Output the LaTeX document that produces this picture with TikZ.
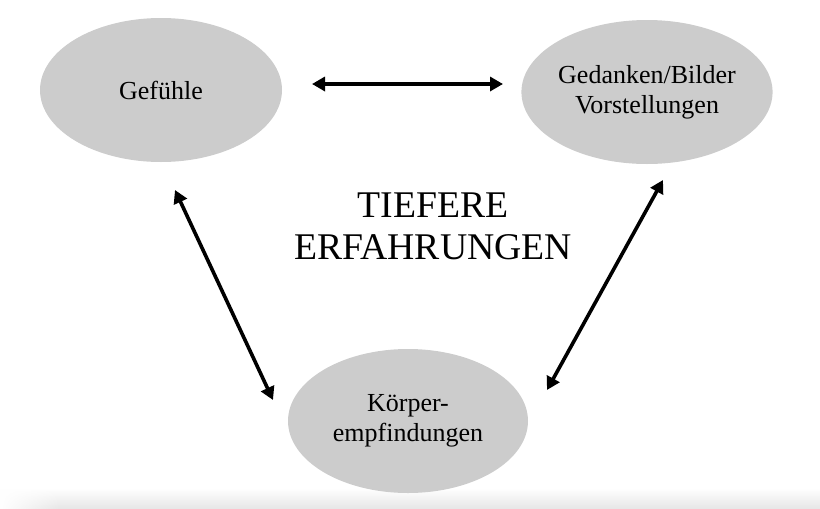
\documentclass[tikz,border=0pt]{standalone}
\usepackage{fontspec}
\setmainfont{Liberation Serif}
\usetikzlibrary{shapes.geometric,arrows.meta,fadings}
\definecolor{ellgray}{RGB}{204,204,204}
\tikzfading[name=myfaderight, left color=transparent!0, right color=transparent!100]
\tikzset{
  blob/.style={ellipse, fill=ellgray, draw=none, inner sep=0pt,
    minimum width=242pt, minimum height=144pt, align=center,
    font=\fontsize{26}{30}\selectfont},
  link/.style={line width=3.6pt, {Triangle[length=13pt,width=14pt]}-{Triangle[length=13pt,width=14pt]}}
}
\begin{document}
\begin{tikzpicture}[x=1pt,y=-1pt]
\useasboundingbox (0,0) rectangle (820,509);
% bottom shadow
\shade[top color=white, bottom color=black!10, draw=none] (0,488) rectangle (820,509);
\fill[white, path fading=myfaderight] (0,486) rectangle (60,509);
% ellipses
\node[blob] (g) at (161,90) {Gefühle};
\node[blob] (d) at (647,92) {Gedanken/Bilder\\Vorstellungen};
\node[blob, minimum width=240pt] (k) at (408,421) {Körper-\\empfindungen};
% centre text
\node[align=center, font=\fontsize{37.7}{42}\selectfont, inner sep=0pt] (t) at (433,226) {TIEFERE\\ERFAHRUNGEN};
% arrow end points
\coordinate (a1) at (312,84);
\coordinate (a2) at (503,84);
\coordinate (b1) at (175,190);
\coordinate (b2) at (273,400);
\coordinate (c1) at (663,180);
\coordinate (c2) at (547,390);
\draw[link] (a1) -- (a2);
\draw[link] (b1) -- (b2);
\draw[link] (c1) -- (c2);
\end{tikzpicture}
\end{document}
